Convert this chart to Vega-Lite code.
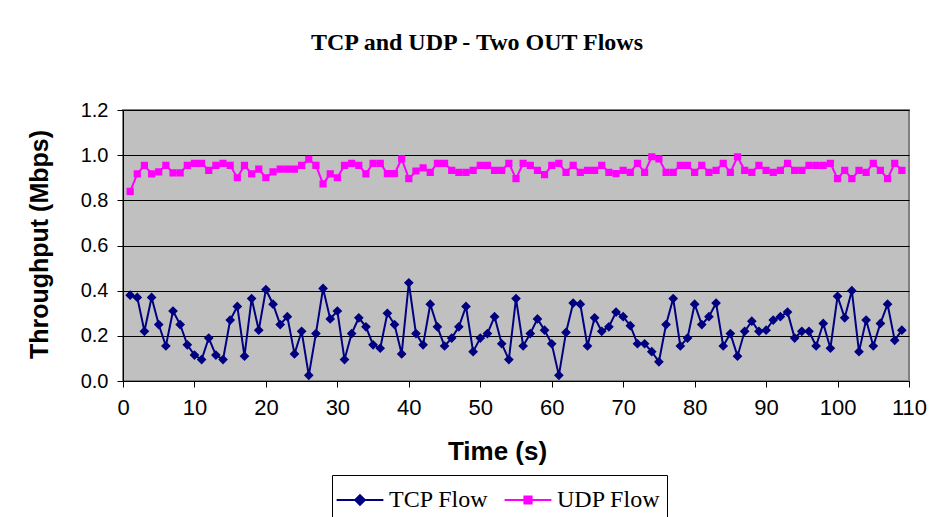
{
  "$schema": "https://vega.github.io/schema/vega-lite/v6.json",
  "width": 786,
  "height": 271,
  "autosize": {"type": "none"},
  "padding": {"left": 123, "top": 110, "right": 30, "bottom": 136},
  "background": "white",
  "config": {
    "view": {"fill": "#C0C0C0", "stroke": "#808080", "strokeWidth": 2},
    "font": "Liberation Sans",
    "legend": {
      "orient": "none",
      "legendX": 209,
      "legendY": 365,
      "direction": "horizontal",
      "labelFont": "Liberation Serif",
      "labelFontSize": 24,
      "labelColor": "black",
      "symbolSize": 1296,
      "symbolOffset": 3,
      "symbolStrokeWidth": 2,
      "labelOffset": 10,
      "columnPadding": 11,
      "padding": 6,
      "strokeColor": "black",
      "fillColor": "white",
      "cornerRadius": 0
    }
  },
  "title": {
    "text": "TCP and UDP - Two OUT Flows",
    "font": "Liberation Serif",
    "fontSize": 24,
    "fontWeight": "bold",
    "color": "black",
    "anchor": "middle",
    "baseline": "alphabetic",
    "dx": -39,
    "offset": 26
  },
  "data": {
    "values": [
      {"t": 1, "TCP Flow": 0.38, "UDP Flow": 0.84},
      {"t": 2, "TCP Flow": 0.37, "UDP Flow": 0.917},
      {"t": 3, "TCP Flow": 0.22, "UDP Flow": 0.955},
      {"t": 4, "TCP Flow": 0.37, "UDP Flow": 0.917},
      {"t": 5, "TCP Flow": 0.25, "UDP Flow": 0.926},
      {"t": 6, "TCP Flow": 0.155, "UDP Flow": 0.955},
      {"t": 7, "TCP Flow": 0.31, "UDP Flow": 0.922},
      {"t": 8, "TCP Flow": 0.25, "UDP Flow": 0.922},
      {"t": 9, "TCP Flow": 0.16, "UDP Flow": 0.955},
      {"t": 10, "TCP Flow": 0.115, "UDP Flow": 0.964},
      {"t": 11, "TCP Flow": 0.095, "UDP Flow": 0.964},
      {"t": 12, "TCP Flow": 0.19, "UDP Flow": 0.933},
      {"t": 13, "TCP Flow": 0.115, "UDP Flow": 0.955},
      {"t": 14, "TCP Flow": 0.095, "UDP Flow": 0.964},
      {"t": 15, "TCP Flow": 0.27, "UDP Flow": 0.955},
      {"t": 16, "TCP Flow": 0.33, "UDP Flow": 0.9},
      {"t": 17, "TCP Flow": 0.11, "UDP Flow": 0.955},
      {"t": 18, "TCP Flow": 0.365, "UDP Flow": 0.917},
      {"t": 19, "TCP Flow": 0.225, "UDP Flow": 0.938},
      {"t": 20, "TCP Flow": 0.405, "UDP Flow": 0.9},
      {"t": 21, "TCP Flow": 0.34, "UDP Flow": 0.926},
      {"t": 22, "TCP Flow": 0.25, "UDP Flow": 0.938},
      {"t": 23, "TCP Flow": 0.285, "UDP Flow": 0.938},
      {"t": 24, "TCP Flow": 0.12, "UDP Flow": 0.938},
      {"t": 25, "TCP Flow": 0.22, "UDP Flow": 0.955},
      {"t": 26, "TCP Flow": 0.025, "UDP Flow": 0.982},
      {"t": 27, "TCP Flow": 0.21, "UDP Flow": 0.955},
      {"t": 28, "TCP Flow": 0.41, "UDP Flow": 0.873},
      {"t": 29, "TCP Flow": 0.275, "UDP Flow": 0.917},
      {"t": 30, "TCP Flow": 0.31, "UDP Flow": 0.9},
      {"t": 31, "TCP Flow": 0.095, "UDP Flow": 0.955},
      {"t": 32, "TCP Flow": 0.21, "UDP Flow": 0.964},
      {"t": 33, "TCP Flow": 0.28, "UDP Flow": 0.955},
      {"t": 34, "TCP Flow": 0.24, "UDP Flow": 0.917},
      {"t": 35, "TCP Flow": 0.16, "UDP Flow": 0.964},
      {"t": 36, "TCP Flow": 0.145, "UDP Flow": 0.964},
      {"t": 37, "TCP Flow": 0.3, "UDP Flow": 0.918},
      {"t": 38, "TCP Flow": 0.25, "UDP Flow": 0.918},
      {"t": 39, "TCP Flow": 0.12, "UDP Flow": 0.984},
      {"t": 40, "TCP Flow": 0.435, "UDP Flow": 0.896},
      {"t": 41, "TCP Flow": 0.21, "UDP Flow": 0.93},
      {"t": 42, "TCP Flow": 0.16, "UDP Flow": 0.944},
      {"t": 43, "TCP Flow": 0.34, "UDP Flow": 0.924},
      {"t": 44, "TCP Flow": 0.24, "UDP Flow": 0.964},
      {"t": 45, "TCP Flow": 0.155, "UDP Flow": 0.964},
      {"t": 46, "TCP Flow": 0.19, "UDP Flow": 0.933},
      {"t": 47, "TCP Flow": 0.24, "UDP Flow": 0.924},
      {"t": 48, "TCP Flow": 0.33, "UDP Flow": 0.924},
      {"t": 49, "TCP Flow": 0.13, "UDP Flow": 0.933},
      {"t": 50, "TCP Flow": 0.19, "UDP Flow": 0.955},
      {"t": 51, "TCP Flow": 0.21, "UDP Flow": 0.955},
      {"t": 52, "TCP Flow": 0.285, "UDP Flow": 0.933},
      {"t": 53, "TCP Flow": 0.165, "UDP Flow": 0.933},
      {"t": 54, "TCP Flow": 0.095, "UDP Flow": 0.964},
      {"t": 55, "TCP Flow": 0.365, "UDP Flow": 0.896},
      {"t": 56, "TCP Flow": 0.155, "UDP Flow": 0.964},
      {"t": 57, "TCP Flow": 0.21, "UDP Flow": 0.955},
      {"t": 58, "TCP Flow": 0.275, "UDP Flow": 0.933},
      {"t": 59, "TCP Flow": 0.225, "UDP Flow": 0.914},
      {"t": 60, "TCP Flow": 0.165, "UDP Flow": 0.955},
      {"t": 61, "TCP Flow": 0.025, "UDP Flow": 0.964},
      {"t": 62, "TCP Flow": 0.215, "UDP Flow": 0.924},
      {"t": 63, "TCP Flow": 0.345, "UDP Flow": 0.955},
      {"t": 64, "TCP Flow": 0.34, "UDP Flow": 0.924},
      {"t": 65, "TCP Flow": 0.155, "UDP Flow": 0.933},
      {"t": 66, "TCP Flow": 0.28, "UDP Flow": 0.933},
      {"t": 67, "TCP Flow": 0.22, "UDP Flow": 0.955},
      {"t": 68, "TCP Flow": 0.24, "UDP Flow": 0.924},
      {"t": 69, "TCP Flow": 0.305, "UDP Flow": 0.918},
      {"t": 70, "TCP Flow": 0.285, "UDP Flow": 0.933},
      {"t": 71, "TCP Flow": 0.245, "UDP Flow": 0.924},
      {"t": 72, "TCP Flow": 0.165, "UDP Flow": 0.964},
      {"t": 73, "TCP Flow": 0.165, "UDP Flow": 0.924},
      {"t": 74, "TCP Flow": 0.13, "UDP Flow": 0.993},
      {"t": 75, "TCP Flow": 0.085, "UDP Flow": 0.984},
      {"t": 76, "TCP Flow": 0.25, "UDP Flow": 0.924},
      {"t": 77, "TCP Flow": 0.365, "UDP Flow": 0.924},
      {"t": 78, "TCP Flow": 0.155, "UDP Flow": 0.955},
      {"t": 79, "TCP Flow": 0.19, "UDP Flow": 0.955},
      {"t": 80, "TCP Flow": 0.34, "UDP Flow": 0.924},
      {"t": 81, "TCP Flow": 0.25, "UDP Flow": 0.955},
      {"t": 82, "TCP Flow": 0.285, "UDP Flow": 0.924},
      {"t": 83, "TCP Flow": 0.345, "UDP Flow": 0.933},
      {"t": 84, "TCP Flow": 0.155, "UDP Flow": 0.964},
      {"t": 85, "TCP Flow": 0.21, "UDP Flow": 0.924},
      {"t": 86, "TCP Flow": 0.11, "UDP Flow": 0.993},
      {"t": 87, "TCP Flow": 0.22, "UDP Flow": 0.933},
      {"t": 88, "TCP Flow": 0.265, "UDP Flow": 0.924},
      {"t": 89, "TCP Flow": 0.22, "UDP Flow": 0.955},
      {"t": 90, "TCP Flow": 0.225, "UDP Flow": 0.933},
      {"t": 91, "TCP Flow": 0.27, "UDP Flow": 0.924},
      {"t": 92, "TCP Flow": 0.285, "UDP Flow": 0.933},
      {"t": 93, "TCP Flow": 0.305, "UDP Flow": 0.964},
      {"t": 94, "TCP Flow": 0.19, "UDP Flow": 0.933},
      {"t": 95, "TCP Flow": 0.22, "UDP Flow": 0.933},
      {"t": 96, "TCP Flow": 0.22, "UDP Flow": 0.955},
      {"t": 97, "TCP Flow": 0.155, "UDP Flow": 0.955},
      {"t": 98, "TCP Flow": 0.255, "UDP Flow": 0.955},
      {"t": 99, "TCP Flow": 0.145, "UDP Flow": 0.964},
      {"t": 100, "TCP Flow": 0.375, "UDP Flow": 0.896},
      {"t": 101, "TCP Flow": 0.28, "UDP Flow": 0.933},
      {"t": 102, "TCP Flow": 0.4, "UDP Flow": 0.896},
      {"t": 103, "TCP Flow": 0.13, "UDP Flow": 0.933},
      {"t": 104, "TCP Flow": 0.27, "UDP Flow": 0.924},
      {"t": 105, "TCP Flow": 0.155, "UDP Flow": 0.964},
      {"t": 106, "TCP Flow": 0.255, "UDP Flow": 0.933},
      {"t": 107, "TCP Flow": 0.34, "UDP Flow": 0.896},
      {"t": 108, "TCP Flow": 0.18, "UDP Flow": 0.964},
      {"t": 109, "TCP Flow": 0.225, "UDP Flow": 0.933}
    ]
  },
  "transform": [{"fold": ["TCP Flow", "UDP Flow"], "as": ["flow", "mbps"]}],
  "encoding": {
    "x": {
      "field": "t",
      "type": "quantitative",
      "scale": {"domain": [0, 110], "nice": false},
      "axis": {
        "title": "Time (s)",
        "values": [0, 10, 20, 30, 40, 50, 60, 70, 80, 90, 100, 110],
        "grid": false,
        "labelFont": "Liberation Sans",
        "labelFontSize": 22,
        "labelColor": "black",
        "labelPadding": 10,
        "labelFlush": false,
        "tickSize": 6,
        "tickColor": "black",
        "domainColor": "black",
        "titleFont": "Liberation Sans",
        "titleFontSize": 26,
        "titleFontWeight": "bold",
        "titleColor": "black",
        "titleX": 374,
        "titleY": 78,
        "titleAlign": "center",
        "titleBaseline": "alphabetic"
      }
    },
    "y": {
      "field": "mbps",
      "type": "quantitative",
      "scale": {"domain": [0, 1.2], "nice": false},
      "axis": {
        "title": "Throughput (Mbps)",
        "values": [0, 0.2, 0.4, 0.6, 0.8, 1.0, 1.2],
        "format": ".1f",
        "labelFont": "Liberation Sans",
        "labelFontSize": 20,
        "labelColor": "black",
        "labelPadding": 9,
        "tickSize": 6,
        "tickColor": "black",
        "domainColor": "black",
        "gridColor": "black",
        "gridWidth": 1,
        "titleFont": "Liberation Sans",
        "titleFontSize": 25,
        "titleFontWeight": "bold",
        "titleColor": "black",
        "titleAngle": 270,
        "titleX": -76,
        "titleY": 134,
        "titleAlign": "center",
        "titleBaseline": "alphabetic"
      }
    }
  },
  "layer": [
    {
      "transform": [{"filter": "datum.flow === 'TCP Flow'"}],
      "mark": {"type": "line", "strokeWidth": 2, "color": "#000080"}
    },
    {
      "transform": [{"filter": "datum.flow === 'UDP Flow'"}],
      "mark": {"type": "line", "strokeWidth": 2, "color": "#FF00FF"}
    },
    {
      "mark": {"type": "point", "filled": true, "size": 1296, "strokeWidth": 0, "opacity": 1},
      "encoding": {
        "color": {
          "field": "flow",
          "type": "nominal",
          "title": null,
          "scale": {"domain": ["TCP Flow", "UDP Flow"], "range": ["#000080", "#FF00FF"]},
          "legend": {
            "title": null,
            "encode": {
              "symbols": {
                "update": {
                  "strokeWidth": {"value": 2},
                  "opacity": {"value": 1}
                }
              }
            }
          }
        },
        "stroke": {
          "field": "flow",
          "type": "nominal",
          "title": null,
          "scale": {"domain": ["TCP Flow", "UDP Flow"], "range": ["#000080", "#FF00FF"]},
          "legend": {"title": null}
        },
        "shape": {
          "field": "flow",
          "type": "nominal",
          "title": null,
          "scale": {
            "domain": ["TCP Flow", "UDP Flow"],
            "range": [
              "M-1.3,0H1.3M0,-0.27L0.27,0L0,0.27L-0.27,0Z",
              "M-1.3,0H1.3M-0.2,-0.2H0.2V0.2H-0.2Z"
            ]
          },
          "legend": {"title": null}
        }
      }
    }
  ]
}
